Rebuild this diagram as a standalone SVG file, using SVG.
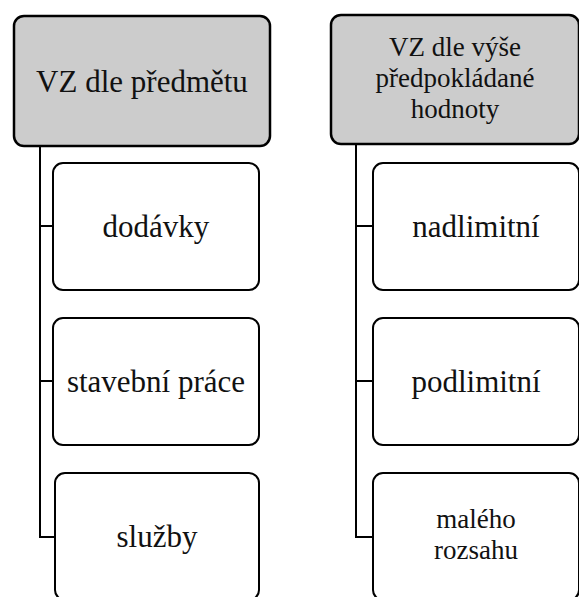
<svg xmlns="http://www.w3.org/2000/svg" width="579" height="597" viewBox="0 0 579 597">
<style>
.p{fill:#cccccc;stroke:#000;stroke-width:2.5}
.c{fill:#fff;stroke:#000;stroke-width:2}
.l{fill:none;stroke:#000;stroke-width:2}
text{font-family:'Liberation Serif','Times New Roman','DejaVu Serif',serif;font-size:31px;fill:#111;text-anchor:middle}
text.m{font-size:27px}
</style>
<rect width="579" height="597" fill="#fff"/>
<g id="connectors">
<path class="l" d="M40 146V537H55M40 226H53M40 381H53"/>
<path class="l" d="M356 145V537H373M356 226H373M356 381H373"/>
</g>
<g id="n1"><rect class="p" x="14" y="16" width="256" height="130" rx="10"/><text x="142" y="92">VZ dle předmětu</text></g>
<g id="n2"><rect class="p" x="331" y="15" width="248" height="129" rx="10"/><text class="m" x="455" y="56">VZ dle výše</text><text class="m" x="455" y="87">předpokládané</text><text class="m" x="455" y="118">hodnoty</text></g>
<g id="c1"><rect class="c" x="53" y="163" width="206" height="127" rx="10"/><text x="156" y="237">dodávky</text></g>
<g id="c2"><rect class="c" x="53" y="318" width="206" height="127" rx="10"/><text x="156" y="392">stavební práce</text></g>
<g id="c3"><rect class="c" x="55" y="473" width="204" height="127" rx="10"/><text x="157" y="547">služby</text></g>
<g id="c4"><rect class="c" x="373" y="163" width="206" height="127" rx="10"/><text x="476" y="237">nadlimitní</text></g>
<g id="c5"><rect class="c" x="373" y="318" width="206" height="127" rx="10"/><text x="476" y="392">podlimitní</text></g>
<g id="c6"><rect class="c" x="373" y="473" width="206" height="127" rx="10"/><text class="m" x="476" y="528">malého</text><text class="m" x="476" y="559">rozsahu</text></g>
</svg>
